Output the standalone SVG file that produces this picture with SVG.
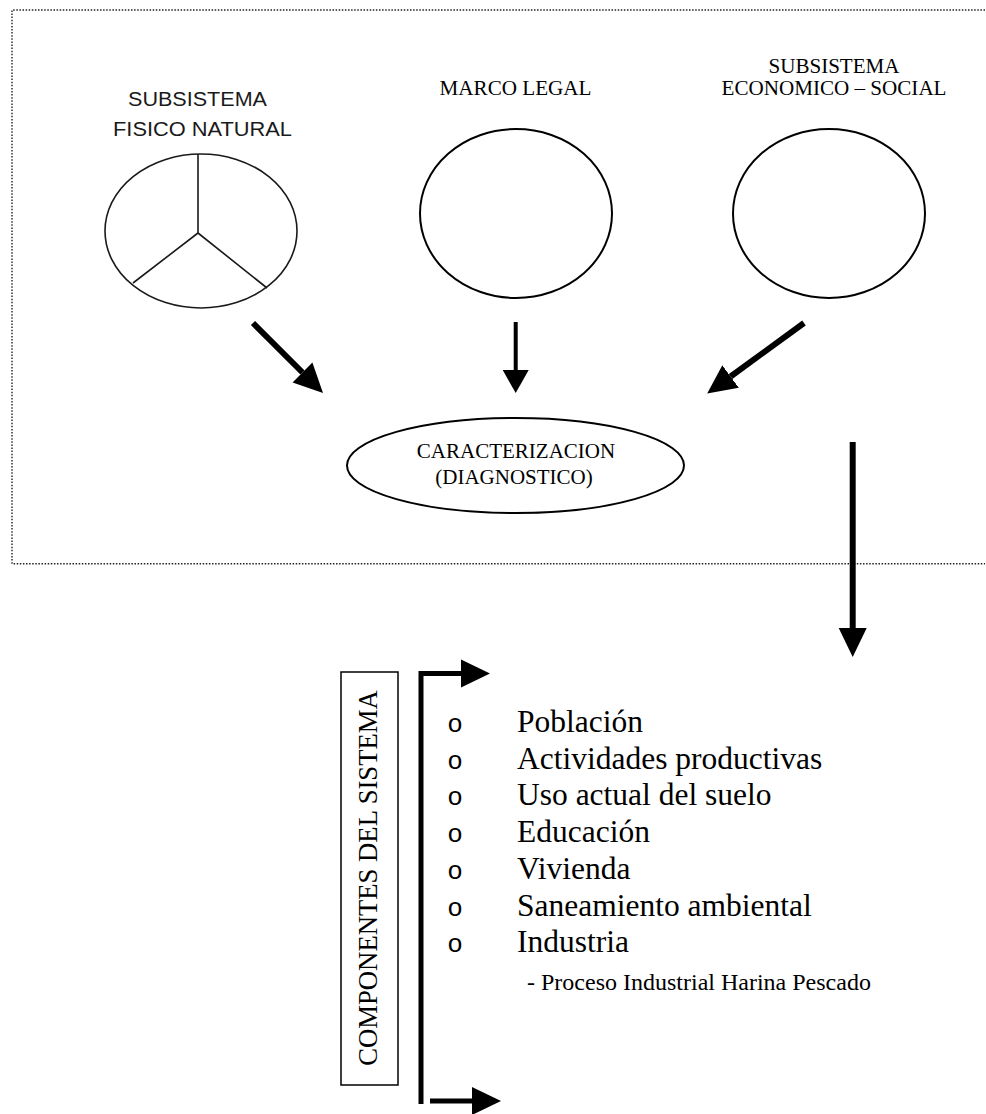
<svg xmlns="http://www.w3.org/2000/svg" width="986" height="1114" viewBox="0 0 986 1114">
<style>
.serif{font-family:"Liberation Serif","Times New Roman",serif;fill:#000}
.pix{font-family:"Liberation Sans",Arial,sans-serif;fill:#1a1a1a}
.mono{font-family:"Liberation Mono","Courier New",monospace;fill:#000}
.frame{fill:none;stroke:#222;stroke-width:1.4;stroke-dasharray:1.5 1.6}
.shape{fill:#fff;stroke:#000;stroke-width:2}
.conn{fill:none;stroke:#000;stroke-linecap:butt;stroke-linejoin:miter}
</style>
<defs>
<marker id="headBig" markerUnits="userSpaceOnUse" markerWidth="30" markerHeight="30" viewBox="0 0 30 30" refX="0" refY="15" orient="auto">
<path d="M0,1 L29,15 L0,29 z" fill="#000"/>
</marker>
<marker id="headMid" markerUnits="userSpaceOnUse" markerWidth="24" markerHeight="26" viewBox="0 0 24 26" refX="0" refY="13" orient="auto">
<path d="M0,0 L23,13 L0,26 z" fill="#000"/>
</marker>
</defs>

<path class="frame" d="M985,10 L12,10 L12,563.7 L985,563.7"/>

<g id="fisico-natural">
<text class="pix" x="197.5" y="106" font-size="20" text-anchor="middle" textLength="139" lengthAdjust="spacingAndGlyphs">SUBSISTEMA</text>
<text class="pix" x="202.5" y="136" font-size="20" text-anchor="middle" textLength="179" lengthAdjust="spacingAndGlyphs">FISICO NATURAL</text>
<ellipse cx="201" cy="231" rx="96" ry="77" fill="#fff" stroke="#1a1a1a" stroke-width="1.6"/>
<path d="M198,154 L198,233 L133,283 M198,233 L267,288" fill="none" stroke="#1a1a1a" stroke-width="1.6"/>
</g>

<g id="marco-legal">
<text class="serif" x="515.5" y="95" font-size="20" text-anchor="middle" textLength="152" lengthAdjust="spacingAndGlyphs">MARCO LEGAL</text>
<ellipse class="shape" cx="516" cy="213.5" rx="96" ry="84.5"/>
</g>

<g id="economico-social">
<text class="serif" x="834" y="72.5" font-size="20" text-anchor="middle" textLength="131" lengthAdjust="spacingAndGlyphs">SUBSISTEMA</text>
<text class="serif" x="834" y="95" font-size="20" text-anchor="middle" textLength="225" lengthAdjust="spacingAndGlyphs">ECONOMICO – SOCIAL</text>
<ellipse class="shape" cx="829" cy="213.5" rx="96" ry="84.5"/>
</g>

<g id="caracterizacion">
<ellipse class="shape" cx="515.5" cy="465.5" rx="168.5" ry="47.5"/>
<text class="serif" x="516" y="458" font-size="21" text-anchor="middle">CARACTERIZACION</text>
<text class="serif" x="514" y="484" font-size="21" text-anchor="middle">(DIAGNOSTICO)</text>
</g>

<g id="componentes">
<rect x="341" y="672" width="57" height="413" fill="#fff" stroke="#000" stroke-width="1.5"/>
<text class="serif" transform="translate(377,878) rotate(-90)" x="0" y="0" font-size="26.7" text-anchor="middle">COMPONENTES DEL SISTEMA</text>
</g>

<g id="lista">
<g class="mono" font-size="26" text-anchor="middle">
<text x="455" y="732">o</text>
<text x="455" y="768.7">o</text>
<text x="455" y="805.4">o</text>
<text x="455" y="842.1">o</text>
<text x="455" y="878.8">o</text>
<text x="455" y="915.5">o</text>
<text x="455" y="952.2">o</text>
</g>
<g class="serif" font-size="31.5">
<text x="517" y="732">Población</text>
<text x="517" y="768.7">Actividades productivas</text>
<text x="517" y="805.4">Uso actual del suelo</text>
<text x="517" y="842.1">Educación</text>
<text x="517" y="878.8">Vivienda</text>
<text x="517" y="915.5">Saneamiento ambiental</text>
<text x="517" y="952.2">Industria</text>
</g>
<text class="serif" x="527" y="990" font-size="24">- Proceso Industrial Harina Pescado</text>
</g>

<g id="connectors">
<line class="conn" x1="253" y1="323" x2="302.5" y2="372.5" stroke-width="6" marker-end="url(#headBig)"/>
<line class="conn" x1="515.7" y1="322" x2="515.7" y2="370" stroke-width="4" marker-end="url(#headMid)"/>
<line class="conn" x1="804" y1="323" x2="730.6" y2="376.5" stroke-width="6" marker-end="url(#headBig)"/>
<line class="conn" x1="852.7" y1="442" x2="852.7" y2="628" stroke-width="6" marker-end="url(#headBig)"/>
<path class="conn" d="M421,1104 L421,673.5 L461,673.5" stroke-width="5" marker-end="url(#headBig)"/>
<line class="conn" x1="430" y1="1101" x2="472" y2="1101" stroke-width="5" marker-end="url(#headBig)"/>
</g>
</svg>
